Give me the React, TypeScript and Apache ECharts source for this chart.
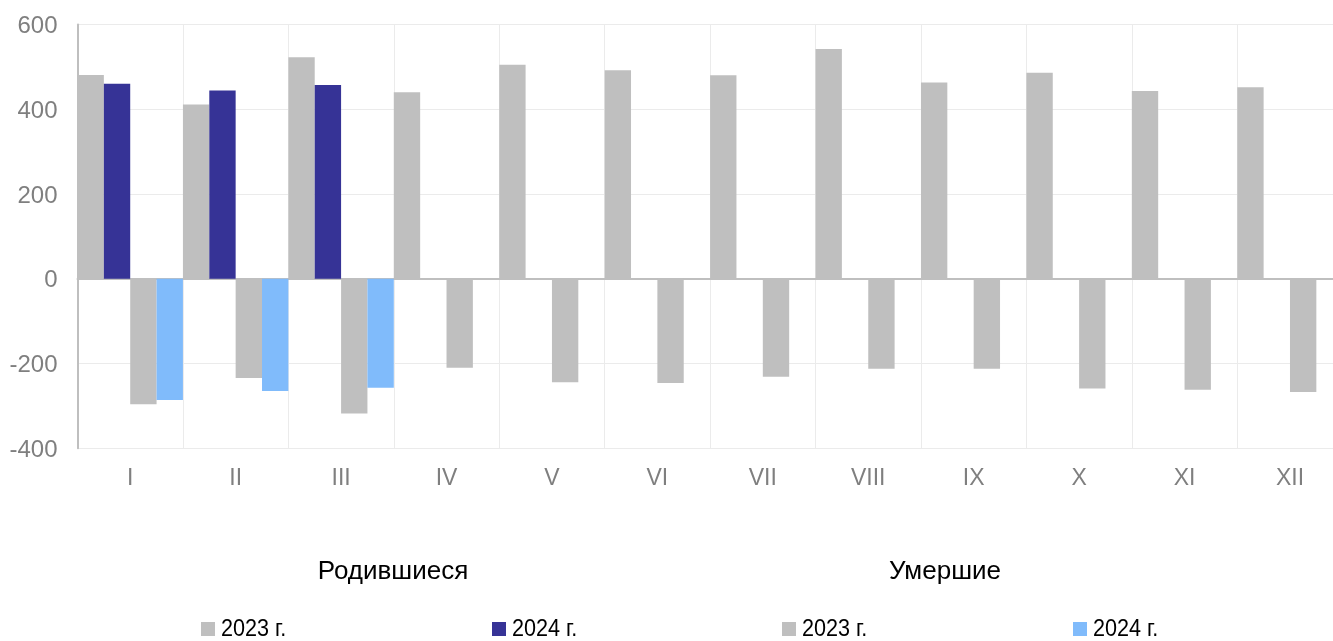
import React, { useEffect, useRef } from "react";
import * as echarts from "echarts";

const months = ["I", "II", "III", "IV", "V", "VI", "VII", "VIII", "IX", "X", "XI", "XII"];
const births2023 = [481, 411, 523, 440, 505, 492, 480, 542, 463, 486, 443, 452];
const births2024 = [460, 444, 457];
const deaths2023 = [-296, -234, -318, -210, -244, -246, -231, -212, -212, -259, -262, -267];
const deaths2024 = [-286, -265, -257];
const yTicks = { min: -400, max: 600, interval: 200 };
const groupTitles = ["Родившиеся", "Умершие"];
const legendLabels = ["2023 г.", "2024 г.", "2023 г.", "2024 г."];

const GRAY = "#BFBFBF";
const DARK = "#363396";
const LIGHT = "#80BBFB";
const LABEL = "#7F7F7F";
const SANS = "'Liberation Sans', Arial, sans-serif";

export default function App() {
  const ref = useRef<HTMLDivElement>(null);
  useEffect(() => {
    if (!ref.current) return;
    document.body.style.overflow = "hidden";
    const chart = echarts.init(ref.current, undefined, { renderer: "svg" });
    const legendColors = [GRAY, DARK, GRAY, LIGHT];
    const legendX = [201, 492, 782, 1073];
    const graphic: any[] = [];
    legendLabels.forEach((t, i) => {
      graphic.push({ type: "rect", left: legendX[i], top: 622, shape: { width: 14, height: 14 }, style: { fill: legendColors[i] } });
      graphic.push({
        type: "text",
        x: legendX[i] + 20,
        y: 628,
        scaleX: 0.9,
        style: { text: t, fill: "#000", font: `24px ${SANS}`, align: "left", verticalAlign: "middle" },
      });
    });
    const titleX = [393, 945];
    groupTitles.forEach((t, i) => {
      graphic.push({ type: "text", x: titleX[i], y: 570, style: { text: t, fill: "#000", font: `26px ${SANS}`, align: "center", verticalAlign: "middle" } });
    });
    chart.setOption({
      animation: false,
      grid: { left: 77.5, right: 0.3, top: 24.5, bottom: 192.7, containLabel: false },
      xAxis: [
        {
          type: "category",
          data: months,
          axisLine: { show: false, onZero: false },
          axisTick: { show: false },
          axisLabel: { color: LABEL, fontSize: 23, fontFamily: SANS, margin: 17 },
          splitLine: { show: true, lineStyle: { color: "#EBEBEB", width: 1 } },
        },
        {
          type: "category",
          data: months,
          position: "bottom",
          axisLine: { show: true, onZero: true, lineStyle: { color: GRAY, width: 2 } },
          axisTick: { show: false },
          axisLabel: { show: false },
          splitLine: { show: false },
        },
      ],
      yAxis: {
        type: "value",
        min: yTicks.min,
        max: yTicks.max,
        interval: yTicks.interval,
        axisLine: { show: true, lineStyle: { color: GRAY, width: 2 } },
        axisTick: { show: false },
        axisLabel: { color: LABEL, fontSize: 24, fontFamily: SANS, margin: 20 },
        splitLine: { show: true, lineStyle: { color: "#EBEBEB", width: 1 } },
      },
      series: [
        { name: "Родившиеся 2023 г.", type: "bar", data: births2023, itemStyle: { color: GRAY }, barGap: "0%", barCategoryGap: "0%" },
        { name: "Родившиеся 2024 г.", type: "bar", data: births2024, itemStyle: { color: DARK }, barGap: "0%", barCategoryGap: "0%" },
        { name: "Умершие 2023 г.", type: "bar", data: deaths2023, itemStyle: { color: GRAY }, barGap: "0%", barCategoryGap: "0%" },
        { name: "Умершие 2024 г.", type: "bar", data: deaths2024, itemStyle: { color: LIGHT }, barGap: "0%", barCategoryGap: "0%" },
      ],
      graphic,
    });
    return () => chart.dispose();
  }, []);
  return <div ref={ref} style={{ position: "fixed", left: 0, top: 0, width: 1343, height: 641 }} />;
}
